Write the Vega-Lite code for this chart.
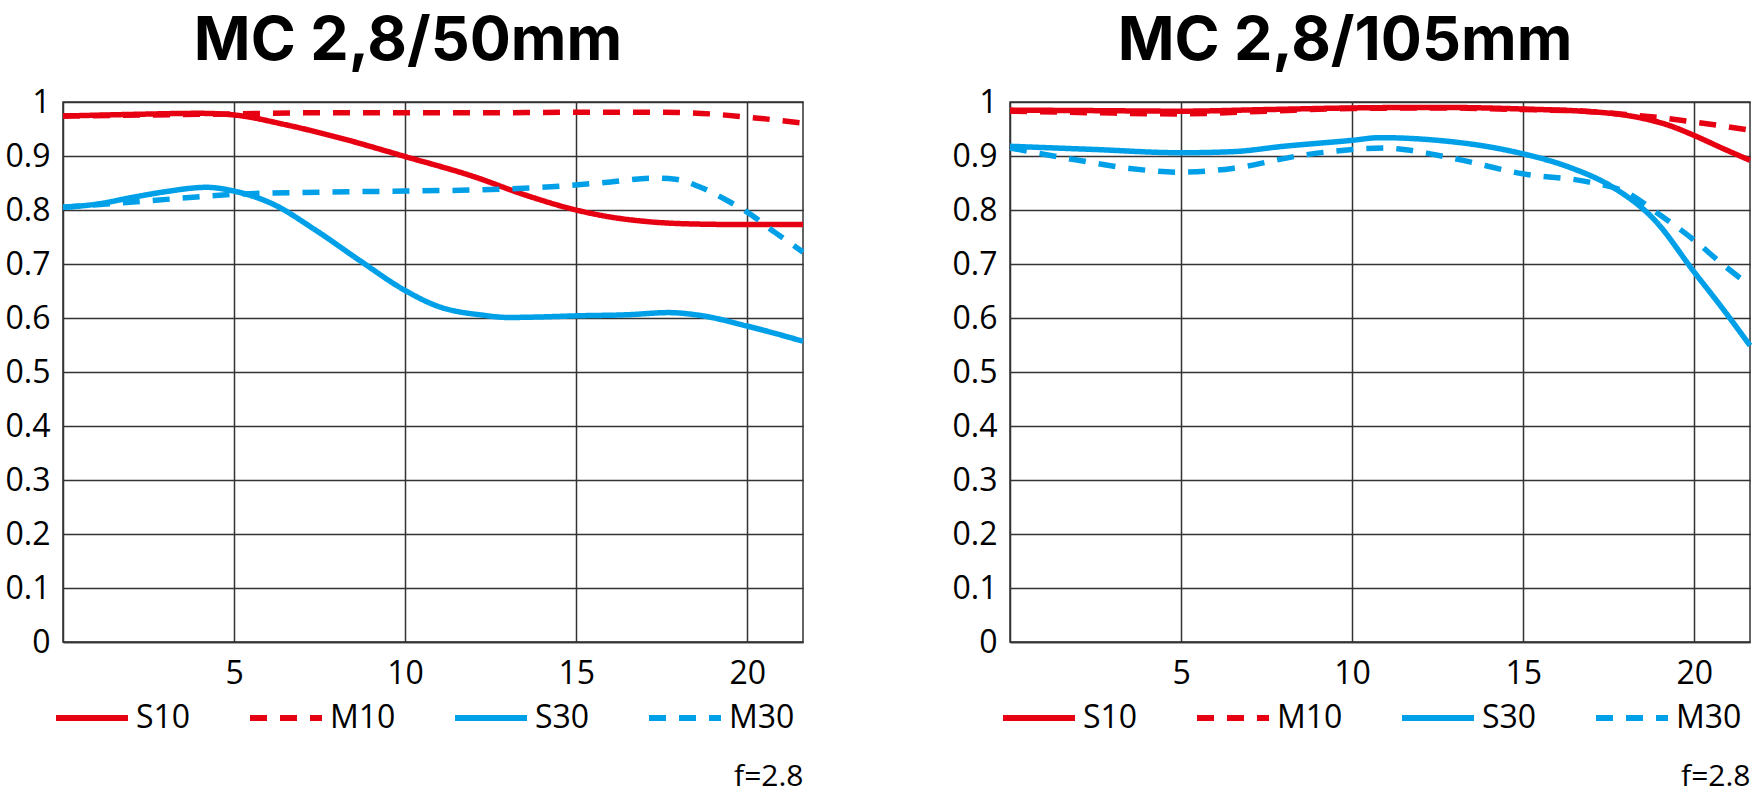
{
  "$schema": "https://vega.github.io/schema/vega-lite/v6.json",
  "background": "white",
  "padding": {"left": 0, "top": 10, "right": 0, "bottom": 12},
  "config": {
    "font": "Open Sans",
    "view": {"stroke": "#333333", "strokeWidth": 1.5},
    "concat": {"spacing": 132},
    "axis": {
      "ticks": false,
      "grid": true,
      "gridColor": "#333333",
      "gridWidth": 1.5,
      "gridOpacity": 1,
      "domainColor": "#333333",
      "domainWidth": 1.5,
      "labelColor": "#000000",
      "labelFont": "Open Sans",
      "labelFontSize": 32,
      "titleColor": "#000000",
      "titleFont": "Open Sans",
      "titleFontSize": 30,
      "titleFontWeight": "normal"
    },
    "legend": {
      "title": null,
      "orient": "none",
      "direction": "horizontal",
      "columns": 4,
      "symbolType": "stroke",
      "symbolSize": 5184,
      "symbolStrokeWidth": 6,
      "labelFont": "Open Sans",
      "labelFontSize": 32,
      "labelColor": "#000000",
      "labelOffset": 5,
      "columnPadding": 47,
      "padding": 0,
      "labelLimit": 300
    },
    "title": {"font": "Inter", "fontSize": 61, "fontWeight": "bold", "color": "#000000", "anchor": "middle", "offset": 13}
  },
  "data": {
    "values": [
      {"lens": "50", "series": "S10", "x": 0, "y": 0.974},
      {"lens": "50", "series": "S10", "x": 2, "y": 0.977},
      {"lens": "50", "series": "S10", "x": 4, "y": 0.979},
      {"lens": "50", "series": "S10", "x": 5, "y": 0.976},
      {"lens": "50", "series": "S10", "x": 6.5, "y": 0.958},
      {"lens": "50", "series": "S10", "x": 8, "y": 0.935},
      {"lens": "50", "series": "S10", "x": 10, "y": 0.899},
      {"lens": "50", "series": "S10", "x": 12, "y": 0.862},
      {"lens": "50", "series": "S10", "x": 13.5, "y": 0.828},
      {"lens": "50", "series": "S10", "x": 15, "y": 0.8},
      {"lens": "50", "series": "S10", "x": 16, "y": 0.787},
      {"lens": "50", "series": "S10", "x": 17, "y": 0.779},
      {"lens": "50", "series": "S10", "x": 18.5, "y": 0.774},
      {"lens": "50", "series": "S10", "x": 20, "y": 0.773},
      {"lens": "50", "series": "S10", "x": 21.63, "y": 0.773},
      {"lens": "50", "series": "M10", "x": 0, "y": 0.974},
      {"lens": "50", "series": "M10", "x": 2.5, "y": 0.976},
      {"lens": "50", "series": "M10", "x": 5, "y": 0.978},
      {"lens": "50", "series": "M10", "x": 7.5, "y": 0.98},
      {"lens": "50", "series": "M10", "x": 10, "y": 0.98},
      {"lens": "50", "series": "M10", "x": 12.5, "y": 0.98},
      {"lens": "50", "series": "M10", "x": 15, "y": 0.981},
      {"lens": "50", "series": "M10", "x": 17.5, "y": 0.981},
      {"lens": "50", "series": "M10", "x": 18.9, "y": 0.978},
      {"lens": "50", "series": "M10", "x": 20, "y": 0.972},
      {"lens": "50", "series": "M10", "x": 21.63, "y": 0.961},
      {"lens": "50", "series": "S30", "x": 0, "y": 0.805},
      {"lens": "50", "series": "S30", "x": 1, "y": 0.811},
      {"lens": "50", "series": "S30", "x": 2, "y": 0.823},
      {"lens": "50", "series": "S30", "x": 3, "y": 0.834},
      {"lens": "50", "series": "S30", "x": 4.2, "y": 0.842},
      {"lens": "50", "series": "S30", "x": 5, "y": 0.835},
      {"lens": "50", "series": "S30", "x": 6.1, "y": 0.812},
      {"lens": "50", "series": "S30", "x": 7.4, "y": 0.762},
      {"lens": "50", "series": "S30", "x": 8.66, "y": 0.707},
      {"lens": "50", "series": "S30", "x": 10, "y": 0.651},
      {"lens": "50", "series": "S30", "x": 10.9, "y": 0.623},
      {"lens": "50", "series": "S30", "x": 12.3, "y": 0.605},
      {"lens": "50", "series": "S30", "x": 13, "y": 0.601},
      {"lens": "50", "series": "S30", "x": 14, "y": 0.602},
      {"lens": "50", "series": "S30", "x": 15, "y": 0.604},
      {"lens": "50", "series": "S30", "x": 16.5, "y": 0.606},
      {"lens": "50", "series": "S30", "x": 17.7, "y": 0.61},
      {"lens": "50", "series": "S30", "x": 18.6, "y": 0.605},
      {"lens": "50", "series": "S30", "x": 20, "y": 0.585},
      {"lens": "50", "series": "S30", "x": 21.63, "y": 0.557},
      {"lens": "50", "series": "M30", "x": 0, "y": 0.805},
      {"lens": "50", "series": "M30", "x": 2.5, "y": 0.817},
      {"lens": "50", "series": "M30", "x": 5, "y": 0.829},
      {"lens": "50", "series": "M30", "x": 7.5, "y": 0.833},
      {"lens": "50", "series": "M30", "x": 10, "y": 0.835},
      {"lens": "50", "series": "M30", "x": 12.5, "y": 0.838},
      {"lens": "50", "series": "M30", "x": 14.5, "y": 0.844},
      {"lens": "50", "series": "M30", "x": 16, "y": 0.852},
      {"lens": "50", "series": "M30", "x": 17.2, "y": 0.859},
      {"lens": "50", "series": "M30", "x": 17.9, "y": 0.857},
      {"lens": "50", "series": "M30", "x": 18.6, "y": 0.843},
      {"lens": "50", "series": "M30", "x": 19.4, "y": 0.818},
      {"lens": "50", "series": "M30", "x": 20, "y": 0.796},
      {"lens": "50", "series": "M30", "x": 20.8, "y": 0.759},
      {"lens": "50", "series": "M30", "x": 21.63, "y": 0.722},
      {"lens": "105", "series": "S10", "x": 0, "y": 0.985},
      {"lens": "105", "series": "S10", "x": 2.5, "y": 0.984},
      {"lens": "105", "series": "S10", "x": 5, "y": 0.983},
      {"lens": "105", "series": "S10", "x": 7.5, "y": 0.986},
      {"lens": "105", "series": "S10", "x": 10, "y": 0.989},
      {"lens": "105", "series": "S10", "x": 12.5, "y": 0.99},
      {"lens": "105", "series": "S10", "x": 15, "y": 0.987},
      {"lens": "105", "series": "S10", "x": 17.4, "y": 0.98},
      {"lens": "105", "series": "S10", "x": 18.4, "y": 0.971},
      {"lens": "105", "series": "S10", "x": 19.2, "y": 0.958},
      {"lens": "105", "series": "S10", "x": 20, "y": 0.938},
      {"lens": "105", "series": "S10", "x": 20.8, "y": 0.915},
      {"lens": "105", "series": "S10", "x": 21.63, "y": 0.892},
      {"lens": "105", "series": "M10", "x": 0, "y": 0.983},
      {"lens": "105", "series": "M10", "x": 2.5, "y": 0.98},
      {"lens": "105", "series": "M10", "x": 5, "y": 0.978},
      {"lens": "105", "series": "M10", "x": 7.5, "y": 0.983},
      {"lens": "105", "series": "M10", "x": 10, "y": 0.988},
      {"lens": "105", "series": "M10", "x": 12.5, "y": 0.989},
      {"lens": "105", "series": "M10", "x": 15, "y": 0.986},
      {"lens": "105", "series": "M10", "x": 17, "y": 0.982},
      {"lens": "105", "series": "M10", "x": 18, "y": 0.977},
      {"lens": "105", "series": "M10", "x": 19, "y": 0.971},
      {"lens": "105", "series": "M10", "x": 20, "y": 0.963},
      {"lens": "105", "series": "M10", "x": 21.63, "y": 0.948},
      {"lens": "105", "series": "S30", "x": 0, "y": 0.918},
      {"lens": "105", "series": "S30", "x": 2.5, "y": 0.912},
      {"lens": "105", "series": "S30", "x": 5, "y": 0.906},
      {"lens": "105", "series": "S30", "x": 6.5, "y": 0.908},
      {"lens": "105", "series": "S30", "x": 8, "y": 0.918},
      {"lens": "105", "series": "S30", "x": 10, "y": 0.929},
      {"lens": "105", "series": "S30", "x": 10.8, "y": 0.934},
      {"lens": "105", "series": "S30", "x": 12.5, "y": 0.929},
      {"lens": "105", "series": "S30", "x": 14, "y": 0.917},
      {"lens": "105", "series": "S30", "x": 15, "y": 0.904},
      {"lens": "105", "series": "S30", "x": 16.4, "y": 0.878},
      {"lens": "105", "series": "S30", "x": 17.6, "y": 0.843},
      {"lens": "105", "series": "S30", "x": 18.85, "y": 0.781},
      {"lens": "105", "series": "S30", "x": 20, "y": 0.685},
      {"lens": "105", "series": "S30", "x": 20.8, "y": 0.62},
      {"lens": "105", "series": "S30", "x": 21.63, "y": 0.549},
      {"lens": "105", "series": "M30", "x": 0, "y": 0.915},
      {"lens": "105", "series": "M30", "x": 2, "y": 0.892},
      {"lens": "105", "series": "M30", "x": 3.5, "y": 0.877},
      {"lens": "105", "series": "M30", "x": 5, "y": 0.87},
      {"lens": "105", "series": "M30", "x": 6.5, "y": 0.877},
      {"lens": "105", "series": "M30", "x": 8.5, "y": 0.901},
      {"lens": "105", "series": "M30", "x": 10, "y": 0.912},
      {"lens": "105", "series": "M30", "x": 11, "y": 0.915},
      {"lens": "105", "series": "M30", "x": 11.5, "y": 0.912},
      {"lens": "105", "series": "M30", "x": 13, "y": 0.895},
      {"lens": "105", "series": "M30", "x": 15, "y": 0.867},
      {"lens": "105", "series": "M30", "x": 16.9, "y": 0.852},
      {"lens": "105", "series": "M30", "x": 18, "y": 0.833},
      {"lens": "105", "series": "M30", "x": 18.95, "y": 0.793},
      {"lens": "105", "series": "M30", "x": 20, "y": 0.744},
      {"lens": "105", "series": "M30", "x": 20.8, "y": 0.701},
      {"lens": "105", "series": "M30", "x": 21.63, "y": 0.66}
    ]
  },
  "hconcat": [
    {
      "title": {"text": "MC 2,8/50mm", "dx": -25},
      "width": 740,
      "height": 540,
      "transform": [{"filter": "datum.lens === '50'"}],
      "mark": {"type": "line", "interpolate": "monotone", "strokeWidth": 5.5, "strokeCap": "butt"},
      "encoding": {
        "x": {"field": "x", "type": "quantitative", "scale": {"domain": [0, 21.63], "nice": false, "zero": false},
          "axis": {"values": [5, 10, 15, 20], "labelPadding": 16, "title": "f=2.8", "titleX": 740, "titleY": 143, "titleAlign": "right", "titleAnchor": null, "titleBaseline": "alphabetic"}},
        "y": {"field": "y", "type": "quantitative", "scale": {"domain": [0, 1], "nice": false},
          "axis": {"values": [0, 0.1, 0.2, 0.3, 0.4, 0.5, 0.6, 0.7, 0.8, 0.9, 1], "format": ".1~f", "title": null, "labelPadding": 13, "minExtent": 62, "maxExtent": 62}},
        "color": {"field": "series", "type": "nominal", "scale": {"domain": ["S10", "M10", "S30", "M30"], "range": ["#E60012", "#E60012", "#00A0E9", "#00A0E9"]},
          "legend": {"legendX": -10, "legendY": 577, "encode": {"symbols": {"update": {"strokeDash": {"signal": "indexof(['M10','M30'], datum.value) >= 0 ? [20, 6] : [1, 0]"}}}}}},
        "strokeDash": {"field": "series", "type": "nominal", "scale": {"domain": ["S10", "M10", "S30", "M30"], "range": [[1, 0], [17, 13], [1, 0], [17, 13]]},
          "legend": {"legendX": -10, "legendY": 577, "encode": {"symbols": {"update": {"strokeDash": {"signal": "indexof(['M10','M30'], datum.value) >= 0 ? [20, 6] : [1, 0]"}}}}}}
      }
    },
    {
      "title": {"text": "MC 2,8/105mm", "dx": -35},
      "width": 740,
      "height": 540,
      "transform": [{"filter": "datum.lens === '105'"}],
      "mark": {"type": "line", "interpolate": "monotone", "strokeWidth": 5.5, "strokeCap": "butt"},
      "encoding": {
        "x": {"field": "x", "type": "quantitative", "scale": {"domain": [0, 21.63], "nice": false, "zero": false},
          "axis": {"values": [5, 10, 15, 20], "labelPadding": 16, "title": "f=2.8", "titleX": 740, "titleY": 143, "titleAlign": "right", "titleAnchor": null, "titleBaseline": "alphabetic"}},
        "y": {"field": "y", "type": "quantitative", "scale": {"domain": [0, 1], "nice": false},
          "axis": {"values": [0, 0.1, 0.2, 0.3, 0.4, 0.5, 0.6, 0.7, 0.8, 0.9, 1], "format": ".1~f", "title": null, "labelPadding": 13, "minExtent": 62, "maxExtent": 62}},
        "color": {"field": "series", "type": "nominal", "scale": {"domain": ["S10", "M10", "S30", "M30"], "range": ["#E60012", "#E60012", "#00A0E9", "#00A0E9"]},
          "legend": {"legendX": -10, "legendY": 577, "encode": {"symbols": {"update": {"strokeDash": {"signal": "indexof(['M10','M30'], datum.value) >= 0 ? [20, 6] : [1, 0]"}}}}}},
        "strokeDash": {"field": "series", "type": "nominal", "scale": {"domain": ["S10", "M10", "S30", "M30"], "range": [[1, 0], [17, 13], [1, 0], [17, 13]]},
          "legend": {"legendX": -10, "legendY": 577, "encode": {"symbols": {"update": {"strokeDash": {"signal": "indexof(['M10','M30'], datum.value) >= 0 ? [20, 6] : [1, 0]"}}}}}}
      }
    }
  ],
  "resolve": {"scale": {"color": "independent", "strokeDash": "independent"}}
}
